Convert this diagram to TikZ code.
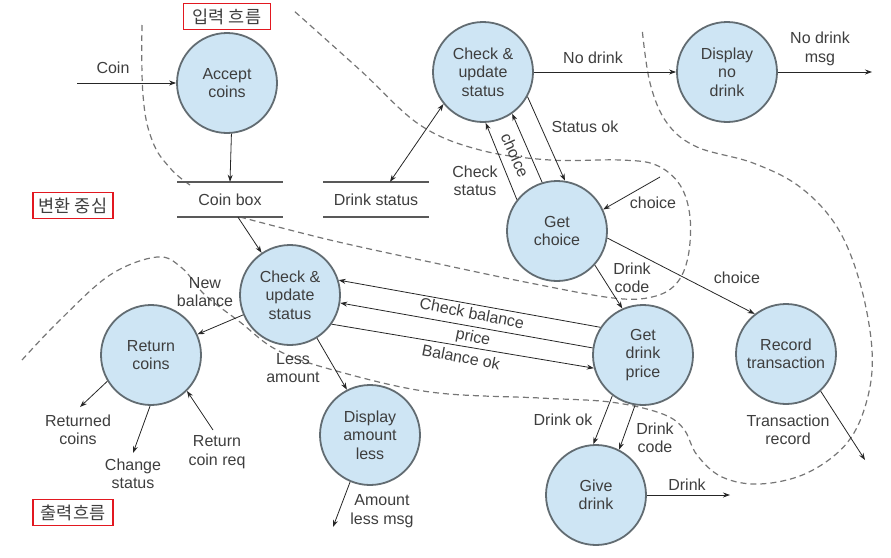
\documentclass[tikz,border=0pt]{standalone}
\usepackage{fontspec}
\setmainfont{Liberation Sans}
\newfontfamily\krfont{Noto Sans CJK KR}
\usetikzlibrary{arrows.meta}

\definecolor{bubble}{RGB}{206,229,244}
\definecolor{rim}{RGB}{98,108,114}
\definecolor{ink}{RGB}{62,62,62}
\definecolor{zonegray}{RGB}{118,118,118}
\definecolor{tagred}{RGB}{226,24,32}

\begin{document}
\begin{tikzpicture}[
        x=1pt, y=-1pt,
        >={Stealth[length=7pt,width=5pt]},
        every node/.style={font=\fontsize{16}{18.5}\selectfont, text=ink, align=center},
        proc/.style={circle, draw=rim, line width=1.8pt, fill=bubble, minimum size=100pt, inner sep=0pt},
        store/.style={minimum width=105pt, minimum height=35pt, inner sep=0pt},
        storeline/.style={draw=black!65, line width=1.8pt},
        lbl/.style={inner sep=1pt},
        tag/.style={draw=tagred, line width=1.8pt, minimum height=26pt, inner sep=0pt, font=\krfont\fontsize{17.5}{19}\selectfont},
        flow/.style={->, line width=0.8pt, draw=black!85},
        zone/.style={draw=zonegray, line width=1.2pt, dash pattern=on 6pt off 4pt}
    ]
    \useasboundingbox (0,0) rectangle (891,557);

    % Boundaries
    \draw[zone] plot[smooth, tension=0.7] coordinates {(142,25) (143,95) (152,140) (170,168) (190,185)};
    \draw[zone] plot[smooth, tension=0.6] coordinates {(240,217) (330,240) (430,262) (530,283) (613,298) (652,297) (676,284) (688,257) (690,217) (680,185) (656,165) (620,160) (550,160) (480,150) (420,125) (360,70) (293,10)};
    \draw[zone] plot[smooth, tension=0.6] coordinates {(22,360) (60,320) (110,275) (157,257) (182,268) (205,295) (240,322) (277,350) (333,370) (430,392) (540,398) (610,402) (660,413) (683,428) (697,455) (722,477) (760,484) (807,473) (847,443) (867,400) (872,350) (860,283) (837,227) (800,187) (753,163) (697,147) (667,123) (650,83) (642,28)};

    % Nodes
    \node[proc] (accept) at (227,83) {Accept\\coins};
    \node[proc] (checkA) at (483,72) {Check \&\\update\\status};
    \node[proc] (nodrink) at (727,72) {Display\\no\\drink};
    \node[proc] (getchoice) at (557,231) {Get\\choice};
    \node[proc] (checkB) at (290,295) {Check \&\\update\\status};
    \node[proc] (retcoins) at (151,355) {Return\\coins};
    \node[proc] (amtless) at (370,435) {Display\\amount\\less};
    \node[proc] (getprice) at (643,355) {Get\\drink\\price};
    \node[proc] (record) at (786,354) {Record\\transaction};
    \node[proc] (give) at (596,495) {Give\\drink};

    \node[store] (coinbox) at (230,199.5) {Coin box};
    \node[store] (drinkstatus) at (376,199.5) {Drink status};
    \draw[storeline] (coinbox.north west) -- (coinbox.north east) (coinbox.south west) -- (coinbox.south east);
    \draw[storeline] (drinkstatus.north west) -- (drinkstatus.north east) (drinkstatus.south west) -- (drinkstatus.south east);

    \node[tag, minimum width=87pt] (tagin) at (227,16.5) {입력 흐름};
    \node[tag, minimum width=80pt] (tagmid) at (73,205.5) {변환 중심};
    \node[tag, minimum width=80pt] (tagout) at (73,512.5) {출력흐름};

    % Free ends
    \coordinate (coinin) at (77,83);
    \coordinate (nodrinkout) at (872,72);
    \coordinate (choicein) at (660,177);
    \coordinate (recout) at (865,460);
    \coordinate (giveout) at (730,495);
    \coordinate (retout) at (80,407);
    \coordinate (chgout) at (133,453);
    \coordinate (reqin) at (213,430);
    \coordinate (amtout) at (333,527);

    % Arrows
    \draw[flow] (coinin) -- (accept);
    \draw[flow] (accept.-85) -- (coinbox.north);
    \draw[flow] ([xshift=8pt]coinbox.south) -- (checkB.124);
    \draw[flow, <->] ([xshift=14pt]drinkstatus.north) -- (checkA.219);
    \draw[flow] (checkA) -- (nodrink);
    \draw[flow] (nodrink) -- (nodrinkout);
    \draw[flow] (checkA.-29) -- (getchoice.81);
    \draw[flow] (getchoice.142) -- (checkA.-87);
    \draw[flow] (getchoice.107) -- (checkA.-55);
    \draw[flow] (choicein) -- (getchoice.25);
    \draw[flow] (getchoice.-42) -- (getprice.114);
    \draw[flow] (getchoice.-8) -- (record.128);
    \draw[flow] (record.-47) -- (recout);
    \draw[flow] (getprice.147) -- (checkB.17);
    \draw[flow] (getprice.172) -- (checkB.-9);
    \draw[flow] (checkB.-35) -- (getprice.195);
    \draw[flow] (getprice.-127) -- (give.93);
    \draw[flow] (getprice.-99) -- (give.63);
    \draw[flow] (give) -- (giveout);
    \draw[flow] (checkB.203) -- (retcoins.24);
    \draw[flow] (checkB.-58) -- (amtless.117);
    \draw[flow] (retcoins.211) -- (retout);
    \draw[flow] (retcoins.-91) -- (chgout);
    \draw[flow] (reqin) -- (retcoins.-45);
    \draw[flow] (amtless.-113) -- (amtout);

    % Labels
    \node[lbl] (lcoin) at (113,68) {Coin};
    \node[lbl] (lnodrink) at (593,58) {No drink};
    \node[lbl] (lnodrinkmsg) at (820,49) {No drink\\msg};
    \node[lbl] (lstatusok) at (585,127) {Status ok};
    \node[lbl] (lcheckstatus) at (475,181) {Check\\status};
    \node[lbl, rotate=-66] (lchoiceup) at (515,155) {choice};
    \node[lbl] (lchoicein) at (653,203) {choice};
    \node[lbl] (ldrinkcode) at (632,278) {Drink\\code};
    \node[lbl] (lchoicerec) at (737,278) {choice};
    \node[lbl] (ltrans) at (788,430) {Transaction\\record};
    \node[lbl, rotate=-11] (lcheckbal) at (472,313) {Check balance};
    \node[lbl, rotate=-11] (lprice) at (473,338) {price};
    \node[lbl, rotate=-11] (lbalok) at (461,357) {Balance ok};
    \node[lbl] (ldrinkok) at (563,420) {Drink ok};
    \node[lbl] (ldrinkcode2) at (655,438) {Drink\\code};
    \node[lbl] (ldrink) at (687,485) {Drink};
    \node[lbl] (lnewbal) at (205,292) {New\\balance};
    \node[lbl] (lless) at (293,368) {Less\\amount};
    \node[lbl] (lreturned) at (78,430) {Returned\\coins};
    \node[lbl] (lchange) at (133,474) {Change\\status};
    \node[lbl] (lreq) at (217,452) {Return\\coin req};
    \node[lbl] (lamtmsg) at (382,511) {Amount\\less msg};
\end{tikzpicture}
\end{document}
